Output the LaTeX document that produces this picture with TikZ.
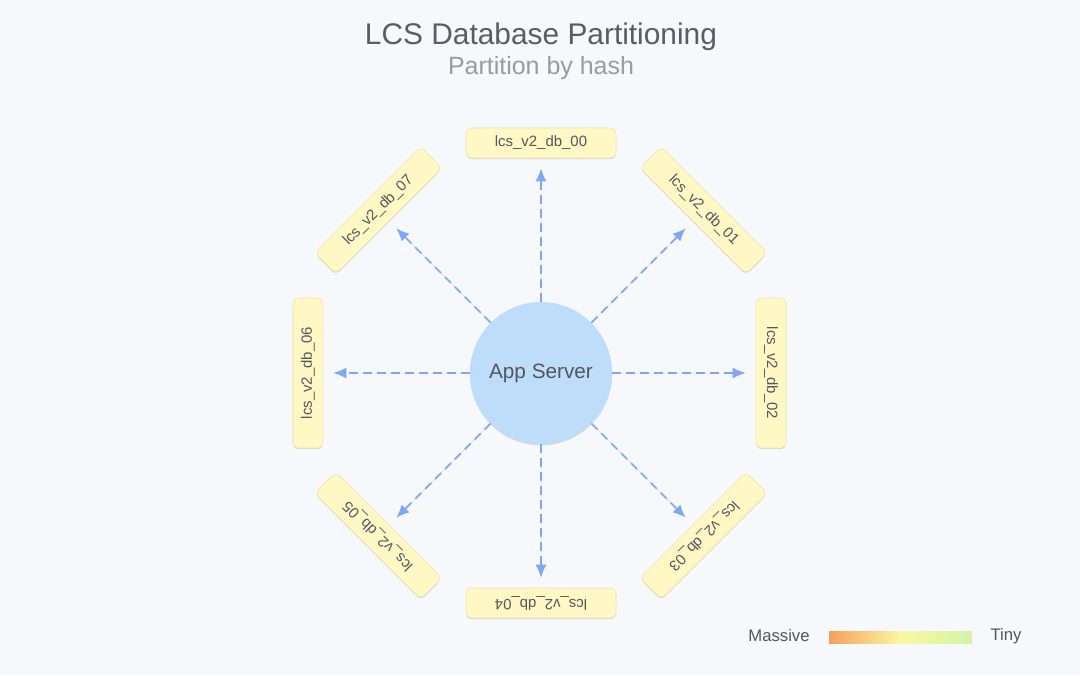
\documentclass[tikz,border=0pt]{standalone}
\usepackage{fontspec}
\setmainfont{Liberation Sans}
\usetikzlibrary{arrows.meta,shadows}
\definecolor{bgcol}{HTML}{F7F8FC}
\definecolor{dbfill}{HTML}{FFF7C4}
\definecolor{dbdraw}{HTML}{EEE4A8}
\definecolor{appfill}{HTML}{BDDDFB}
\definecolor{linkcol}{HTML}{7DA8F5}
\definecolor{titlecol}{HTML}{5C5C66}
\definecolor{subcol}{HTML}{9A9AA2}
\definecolor{textcol}{HTML}{55555E}
\definecolor{massivecol}{HTML}{F4A05C}
\definecolor{midcol}{HTML}{FBF7A2}
\definecolor{tinycol}{HTML}{D2F4A8}
\pgfdeclarehorizontalshading{legendshade}{100bp}{color(0bp)=(massivecol); color(25bp)=(massivecol); color(50bp)=(midcol); color(75bp)=(tinycol); color(100bp)=(tinycol)}
\begin{document}
\begin{tikzpicture}[scale=1.0,
		dbbox/.style={rectangle, rounded corners=1.2mm, fill=dbfill, draw=dbdraw, line width=0.3pt, minimum width=3cm, minimum height=0.6cm, inner sep=0pt, text=textcol, font=\fontsize{8.5}{10}\selectfont, drop shadow={shadow xshift=0pt, shadow yshift=-0.7pt, opacity=0.25}},
		appnode/.style={circle, fill=appfill, minimum size=2.84cm, inner sep=0pt, text=textcol, font=\fontsize{11.8}{14}\selectfont, drop shadow={shadow xshift=0pt, shadow yshift=-0.8pt, opacity=0.25}},
		link/.style={-{Latex[length=2.6mm,width=2.2mm]}, draw=linkcol, fill=linkcol, line width=1pt, dash pattern=on 1.7mm off 1.1mm, shorten >=0.2cm},
		legendtext/.style={text=textcol, font=\fontsize{9.5}{11}\selectfont}]
			\fill[bgcol] (-10.82,-6.04) rectangle (10.78,7.46);
			% title
			\node[font=\fontsize{17}{20}\selectfont, text=titlecol] (title) at (0,6.72) {LCS Database Partitioning};
			\node[font=\fontsize{14.2}{16}\selectfont, text=subcol] (subtitle) at (0,6.1) {Partition by hash};
			% server and databases
			\node[appnode] (app) at (0,0) {App Server};
			\node[dbbox] (db00) at (90:4.6) {lcs\_v2\_db\_00};
			\node[dbbox, rotate=-45] (db01) at (45:4.6) {lcs\_v2\_db\_01};
			\node[dbbox, rotate=-90] (db02) at (0:4.6) {lcs\_v2\_db\_02};
			\node[dbbox, rotate=-135] (db03) at (-45:4.6) {lcs\_v2\_db\_03};
			\node[dbbox, rotate=180] (db04) at (-90:4.6) {lcs\_v2\_db\_04};
			\node[dbbox, rotate=135] (db05) at (-135:4.6) {lcs\_v2\_db\_05};
			\node[dbbox, rotate=90] (db06) at (180:4.66) {lcs\_v2\_db\_06};
			\node[dbbox, rotate=45] (db07) at (135:4.6) {lcs\_v2\_db\_07};
			\draw[link] (app) -- (db00);
			\draw[link] (app) -- (db01);
			\draw[link] (app) -- (db02);
			\draw[link] (app) -- (db03);
			\draw[link] (app) -- (db04);
			\draw[link] (app) -- (db05);
			\draw[link] (app) -- (db06);
			\draw[link] (app) -- (db07);
			% legend
			\node[legendtext] (massive) at (4.76,-5.26) {Massive};
			\node[rectangle, minimum width=2.86cm, minimum height=0.24cm, inner sep=0pt, shading=legendshade, drop shadow={shadow xshift=0pt, shadow yshift=-0.7pt, opacity=0.25}] (bar) at (7.19,-5.28) {};
			\node[legendtext] (tiny) at (9.3,-5.26) {Tiny};
		\end{tikzpicture}
\end{document}
